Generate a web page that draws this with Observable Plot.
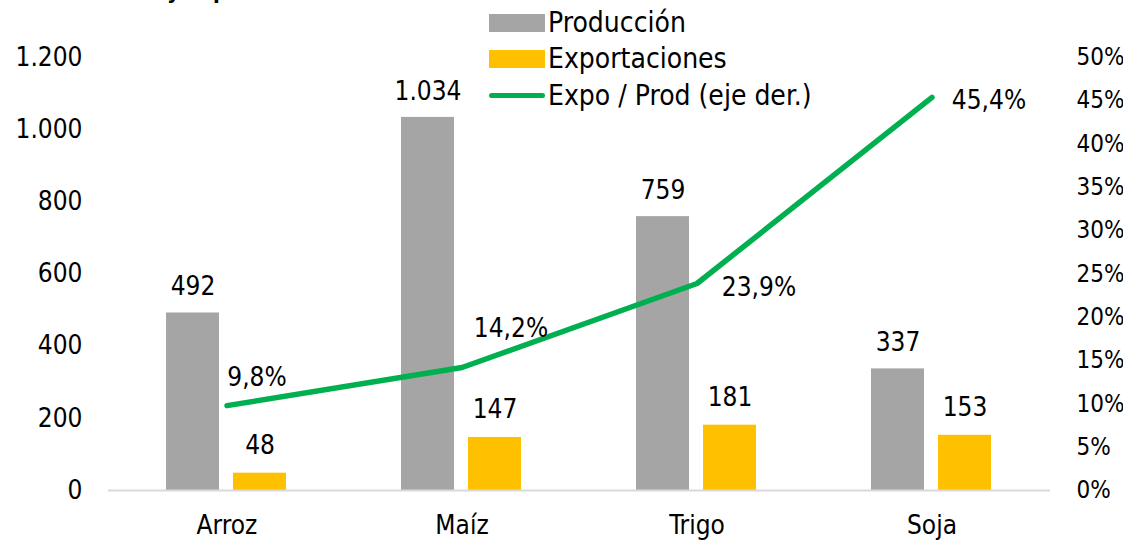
<!DOCTYPE html>
<html>
<head>
<meta charset="utf-8">
<script src="https://cdn.jsdelivr.net/npm/d3@7"></script>
<script src="https://cdn.jsdelivr.net/npm/@observablehq/plot@0.6"></script>
<style>
  html, body { margin: 0; padding: 0; background: #fff; }
  #wrap { position: relative; width: 1123px; height: 541px; overflow: hidden; font-family: "DejaVu Sans Condensed", "DejaVu Sans", sans-serif; }
  #title { position: absolute; left: 36px; top: -21px; font-size: 22px; font-weight: bold; color: #000; white-space: nowrap; }
  #legend { position: absolute; left: 489px; top: 5px; font-size: 28px; color: #000; line-height: 36.3px; }
  .item { display: flex; align-items: center; white-space: nowrap; }
  .sw { width: 56px; height: 18px; margin-right: 3px; }
  .ln { width: 56px; height: 5px; border-radius: 3px; margin-right: 3px; }
  #chart { position: absolute; left: 0; top: 0; }
</style>
</head>
<body>
<div id="wrap">
  <div id="chart"></div>
  <div id="title">Producción y exportaciones</div>
  <div id="legend"></div>
</div>
<script>
// ---- data ----
const categories = ["Arroz", "Maíz", "Trigo", "Soja"];
const produccion = [492, 1034, 759, 337];
const exportaciones = [48, 147, 181, 153];
const expoProd = [9.8, 14.2, 23.9, 45.4]; // % (eje der.)
const leftTicks = [0, 200, 400, 600, 800, 1000, 1200];
const rightTicks = [0, 5, 10, 15, 20, 25, 30, 35, 40, 45, 50];
const seriesNames = ["Producción", "Exportaciones", "Expo / Prod (eje der.)"];

// ---- styles ----
const colors = { prod: "#a5a5a5", expo: "#ffc000", line: "#00b050" };
const pctLabelOffsets = [[30, -28], [49, -39], [62, 4], [57, 3]];

const loc = d3.formatLocale({ decimal: ",", thousands: ".", grouping: [3], currency: ["", "€"] });
const fmtInt = loc.format(",d");
const fmtPct = v => loc.format(".1f")(v) + "%";

const yMax = 1200, pMax = 50;
const toY = p => p * yMax / pMax;

const rows = categories.map((c, i) => ({ cat: c, prod: produccion[i], expo: exportaciones[i], ratio: expoProd[i], i }));

const font = "DejaVu Sans Condensed, DejaVu Sans, sans-serif";
const fs = 26;

const chart = Plot.plot({
  width: 1123,
  height: 541,
  marginLeft: 108,
  marginRight: 73,
  marginTop: 57,
  marginBottom: 51,
  style: { fontFamily: font, fontSize: fs + "px", color: "#000", background: "transparent" },
  x: { domain: categories, padding: 0, label: null },
  y: { domain: [0, yMax], label: null },
  marks: [
    Plot.barY(rows, { x: "cat", y: "prod", fill: colors.prod, dx: -34, insetLeft: 91, insetRight: 91 }),
    Plot.barY(rows, { x: "cat", y: "expo", fill: colors.expo, dx: 33, insetLeft: 91, insetRight: 91 }),
    Plot.ruleY([0], { stroke: "#d9d9d9", strokeWidth: 2 }),
    Plot.text(rows, { x: "cat", y: "prod", text: d => fmtInt(d.prod), dx: -34, dy: -26, fontSize: fs, fill: "#000" }),
    Plot.text(rows, { x: "cat", y: "expo", text: d => fmtInt(d.expo), dx: 33, dy: -28, fontSize: fs, fill: "#000" }),
    Plot.line(rows, { x: "cat", y: d => toY(d.ratio), stroke: colors.line, strokeWidth: 5.5, strokeLinecap: "round", strokeLinejoin: "round" }),
    ...rows.map((r, i) => Plot.text([r], { x: "cat", y: d => toY(d.ratio), text: d => fmtPct(d.ratio), dx: pctLabelOffsets[i][0], dy: pctLabelOffsets[i][1], fontSize: fs, fill: "#000" })),
    Plot.axisY({ anchor: "left", ticks: leftTicks, tickSize: 0, tickPadding: 26, tickFormat: fmtInt, fontSize: fs, label: null }),
    Plot.axisY({ anchor: "right", ticks: rightTicks.map(toY), tickSize: 0, tickPadding: 26, tickFormat: v => Math.round(v * pMax / yMax) + "%", fontSize: 24, label: null }),
    Plot.axisX({ tickSize: 0, tickPadding: 25, fontSize: fs, label: null })
  ]
});
document.getElementById("chart").appendChild(chart);

// legend
const lg = document.getElementById("legend");
const mk = [
  `<div class="sw" style="background:${colors.prod}"></div>`,
  `<div class="sw" style="background:${colors.expo}"></div>`,
  `<div class="ln" style="background:${colors.line}"></div>`
];
seriesNames.forEach((n, i) => {
  const d = document.createElement("div");
  d.className = "item";
  d.innerHTML = mk[i] + `<span>${n}</span>`;
  lg.appendChild(d);
});
</script>
</body>
</html>
